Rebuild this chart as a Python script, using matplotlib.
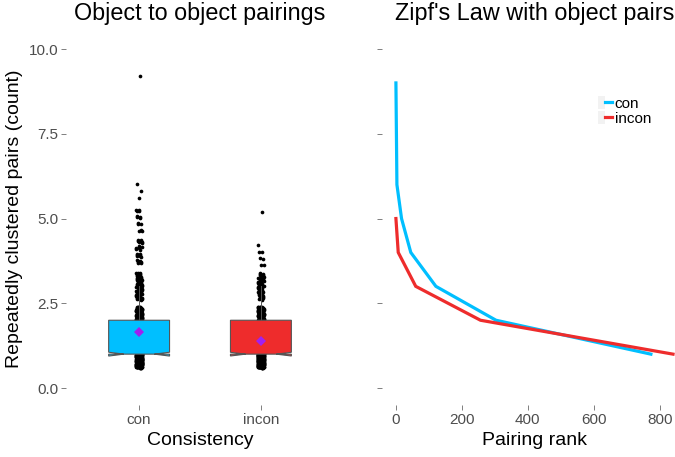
#!/usr/bin/env python3
# plot.py
# Boxplot of repeated object pairings next to a Zipf rank plot

import matplotlib
matplotlib.use('Agg')
import matplotlib.pyplot as plt
from matplotlib.patches import Polygon, Patch
from matplotlib.lines import Line2D
from matplotlib.legend_handler import HandlerTuple
import numpy as np

plt.rcParams['font.family'] = ['Liberation Sans', 'DejaVu Sans']

groups = ['con', 'incon']
colours = {'con': '#00BFFF', 'incon': '#EE2C2C'}

# pair count and the rank of the last pair holding that count
con_counts = [9, 6, 5, 4, 3, 2, 1]
con_last_rank = [1, 4, 18, 46, 122, 304, 773]
incon_counts = [5, 4, 3, 2, 1]
incon_last_rank = [1, 8, 61, 257, 840]

y_ticks = [0.0, 2.5, 5.0, 7.5, 10.0]
x_rank_ticks = [0, 200, 400, 600, 800]

grey_text = '#4D4D4D'


def expand(counts, ranks):
    freq = np.diff([0] + list(ranks))
    return np.repeat(counts, freq)


def jitter(n, seed_a, seed_b):
    # deterministic spread (low discrepancy) instead of random jitter
    i = np.arange(1, n + 1)
    a = (i * seed_a) % 1.0
    b = (i * seed_b) % 1.0
    return a * 2 - 1, b * 2 - 1


fig = plt.figure(figsize=(6.75, 4.57), dpi=100)
ax1 = fig.add_axes([0.0978, 0.1138, 0.397, 0.816])
ax2 = fig.add_axes([0.566, 0.1138, 0.4516, 0.816])

data = {'con': expand(con_counts, con_last_rank),
        'incon': expand(incon_counts, incon_last_rank)}

for pos, name in enumerate(groups, start=1):
    vals = data[name]
    jx, jy = jitter(len(vals), 0.6180339887, 0.7548776662)
    ax1.scatter(pos + jx * 0.025, vals + jy * 0.4, s=7, color='black',
                linewidths=0, zorder=1)

    q1, med, q3 = np.percentile(vals, [25, 50, 75])
    iqr = q3 - q1
    upper = vals[vals <= q3 + 1.5 * iqr].max()
    lower = vals[vals >= q1 - 1.5 * iqr].min()
    ax1.plot([pos, pos], [q3, upper], color='#555555', lw=0.7, zorder=2)
    ax1.plot([pos, pos], [lower, q1], color='#555555', lw=0.7, zorder=2)

    notch = 1.58 * iqr / np.sqrt(len(vals))
    w = 0.25
    xmin, xmax = pos - w, pos + w
    nw = w * 0.5
    verts = [(xmin, q3), (xmin, med + notch), (xmin + nw, med), (xmin, med - notch),
             (xmin, q1), (xmax, q1), (xmax, med - notch), (xmax - nw, med),
             (xmax, med + notch), (xmax, q3)]
    ax1.add_patch(Polygon(verts, closed=True, facecolor=colours[name],
                          edgecolor='#555555', lw=0.8, zorder=3))
    ax1.plot(pos, vals.mean(), marker='D', markersize=5.5, color='#A020F0',
             markeredgewidth=0, zorder=4)

ax1.set_xlim(0.4, 2.6)
ax1.set_ylim(-0.5, 10.5)
ax1.set_xticks([1, 2])
ax1.set_xticklabels(groups)
ax1.set_yticks(y_ticks)
ax1.set_yticklabels([f'{t:.1f}' for t in y_ticks])
ax1.set_title('Object to object pairings', fontsize=16.8, pad=9)
ax1.set_xlabel('Consistency', fontsize=14)
ax1.set_ylabel('Repeatedly clustered pairs (count)', fontsize=14, labelpad=4)

ax2.plot(con_last_rank, con_counts, color=colours['con'], lw=2.3,
         solid_joinstyle='miter')
ax2.plot(incon_last_rank, incon_counts, color=colours['incon'], lw=2.3,
         solid_joinstyle='miter')
ax2.set_xlim(-41, 882)
ax2.set_ylim(-0.5, 10.5)
ax2.set_xticks(x_rank_ticks)
ax2.set_yticks(y_ticks)
ax2.set_yticklabels([])
ax2.set_title("Zipf's Law with object pairs", fontsize=16.8, pad=9)
ax2.set_xlabel('Pairing rank', fontsize=14)

handles = [(Patch(facecolor='#F2F2F2', edgecolor='none'),
            Line2D([], [], color=colours[g], lw=2.3)) for g in groups]
leg = ax2.legend(handles, groups, loc='upper left', bbox_to_anchor=(0.683, 0.85),
                 frameon=False, fontsize=11, handlelength=0.95, handleheight=1.0,
                 handletextpad=0.15, labelspacing=0.0, borderpad=0,
                 handler_map={tuple: HandlerTuple(ndivide=None, pad=0)})

for ax in (ax1, ax2):
    for s in ax.spines.values():
        s.set_visible(False)
    ax.tick_params(colors='#7F7F7F', labelcolor=grey_text, labelsize=11,
                   length=3.6, width=0.7, pad=2)

fig.savefig('out.png', dpi=100)
